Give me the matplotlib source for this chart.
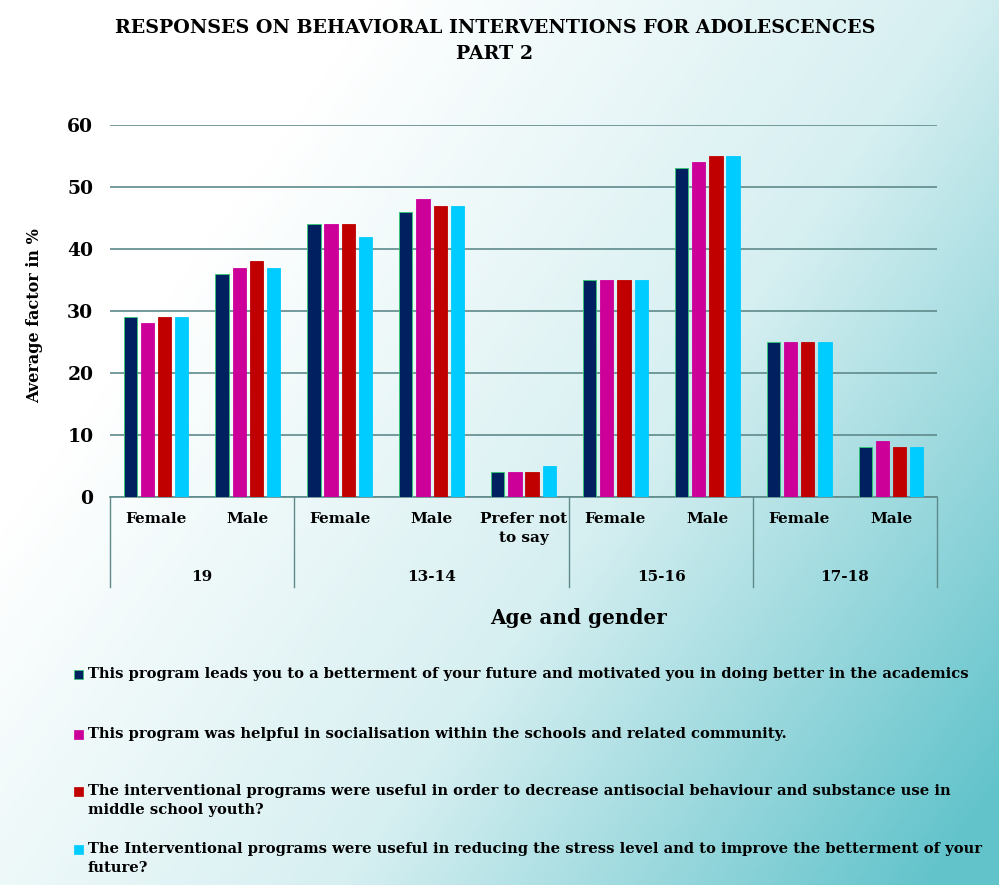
import numpy as np
import matplotlib
matplotlib.use("Agg")
import matplotlib.pyplot as plt
from matplotlib.patches import Rectangle
from matplotlib.colors import LinearSegmentedColormap

# ---------------- data ----------------
sub_labels = ["Female", "Male", "Female", "Male", "Prefer not\nto say",
              "Female", "Male", "Female", "Male"]
group_labels = ["19", "13-14", "15-16", "17-18"]
group_sizes = [2, 3, 2, 2]

series_names = [
    "This program leads you to a betterment of your future and motivated you in doing better in the academics",
    "This program was helpful in socialisation within the schools and related community.",
    "The interventional programs were useful in order to decrease antisocial behaviour and substance use in\nmiddle school youth?",
    "The Interventional programs were useful in reducing the stress level and to improve the betterment of your\nfuture?",
]
s1 = [29, 36, 44, 46, 4, 35, 53, 25, 8]
s2 = [28, 37, 44, 48, 4, 35, 54, 25, 9]
s3 = [29, 38, 44, 47, 4, 35, 55, 25, 8]
s4 = [29, 37, 42, 47, 5, 35, 55, 25, 8]
series = [s1, s2, s3, s4]
colors = ["#002060", "#cc0099", "#c00000", "#00ccff"]
yticks = [0, 10, 20, 30, 40, 50, 60]

FONT = "DejaVu Serif"

W, H = 999, 885
fig = plt.figure(figsize=(W / 100, H / 100), dpi=100)

# background gradient
bg = fig.add_axes([0, 0, 1, 1], zorder=-10)
xx, yy = np.meshgrid(np.linspace(0, 1, 300), np.linspace(0, 1, 300))
t = np.clip((0.8 * xx + 0.5 * yy - 0.3) / 0.95, 0, 1)
cmap = LinearSegmentedColormap.from_list("bg", ["#ffffff", "#d6eff1", "#62c3cb"])
bg.imshow(t, cmap=cmap, extent=[0, 1, 0, 1], aspect="auto", origin="upper", vmin=0, vmax=1)
bg.set_axis_off()

ax = fig.add_axes([110 / W, 1 - 497 / H, (937 - 110) / W, (497 - 125) / H])
ax.patch.set_alpha(0)

n = len(s1)
x = np.arange(n) + 0.5
bw = 0.145
step = 0.187
for k, (vals, c) in enumerate(zip(series, colors)):
    off = (k - 1.5) * step
    ec = "#2ecc71" if k == 0 else c
    ax.bar(x + off, vals, width=bw, color=c, edgecolor=ec, linewidth=0.6, zorder=3)

ax.set_xlim(0, n)
ax.set_ylim(0, 60)
ax.set_yticks(yticks)
ax.set_yticklabels([str(v) for v in yticks], fontfamily=FONT, fontweight="bold", fontsize=13.5)
ax.grid(axis="y", color="#5f8a8b", linewidth=1.2, zorder=0)
ax.tick_params(axis="y", length=0, pad=12)
ax.tick_params(axis="x", length=0, labelbottom=False)
for sp in ["top", "right", "left"]:
    ax.spines[sp].set_visible(False)
ax.spines["bottom"].set_color("#5f8a8b")
ax.spines["bottom"].set_linewidth(1.2)

# category table below axis
trans = ax.get_xaxis_transform()
for i, lab in enumerate(sub_labels):
    ax.text(x[i], -0.04, lab, transform=trans, ha="center", va="top",
            fontfamily=FONT, fontweight="bold", fontsize=11, linespacing=1.5)
bounds = np.concatenate([[0], np.cumsum(group_sizes)])
for b in bounds:
    ax.plot([b, b], [0, -0.243], transform=trans, color="#5f8a8b", linewidth=1.0, clip_on=False)
for g, lab in enumerate(group_labels):
    cx = (bounds[g] + bounds[g + 1]) / 2
    ax.text(cx, -0.215, lab, transform=trans, ha="center", va="center",
            fontfamily=FONT, fontweight="bold", fontsize=11)

ax.set_ylabel("Average factor in %", fontfamily=FONT, fontweight="bold", fontsize=11.5,
              va="center")
ax.yaxis.set_label_coords(-0.0907, 0.487)
fig.text(579 / W, 1 - 618 / H, "Age and gender", ha="center", va="center",
         fontfamily=FONT, fontweight="bold", fontsize=14.4)

fig.text(495 / W, 1 - 28 / H, "RESPONSES ON BEHAVIORAL INTERVENTIONS FOR ADOLESCENCES",
         ha="center", va="center", fontfamily=FONT, fontweight="bold", fontsize=13.7)
fig.text(495 / W, 1 - 54 / H, "PART 2",
         ha="center", va="center", fontfamily=FONT, fontweight="bold", fontsize=13.7)

# legend
leg_y = [675, 735, 792, 850]
for yv, name, c in zip(leg_y, series_names, colors):
    fig.patches.append(Rectangle((74 / W, 1 - (yv + 4) / H), 9 / W, 9 / H,
                                 transform=fig.transFigure, facecolor=c,
                                 edgecolor="#2ecc71" if c == "#002060" else c, linewidth=0.5))
    fig.text(88 / W, 1 - (yv - 8) / H, name, ha="left", va="top",
             fontfamily=FONT, fontweight="bold", fontsize=10.65, linespacing=1.45)

fig.savefig("out.png", dpi=100)
